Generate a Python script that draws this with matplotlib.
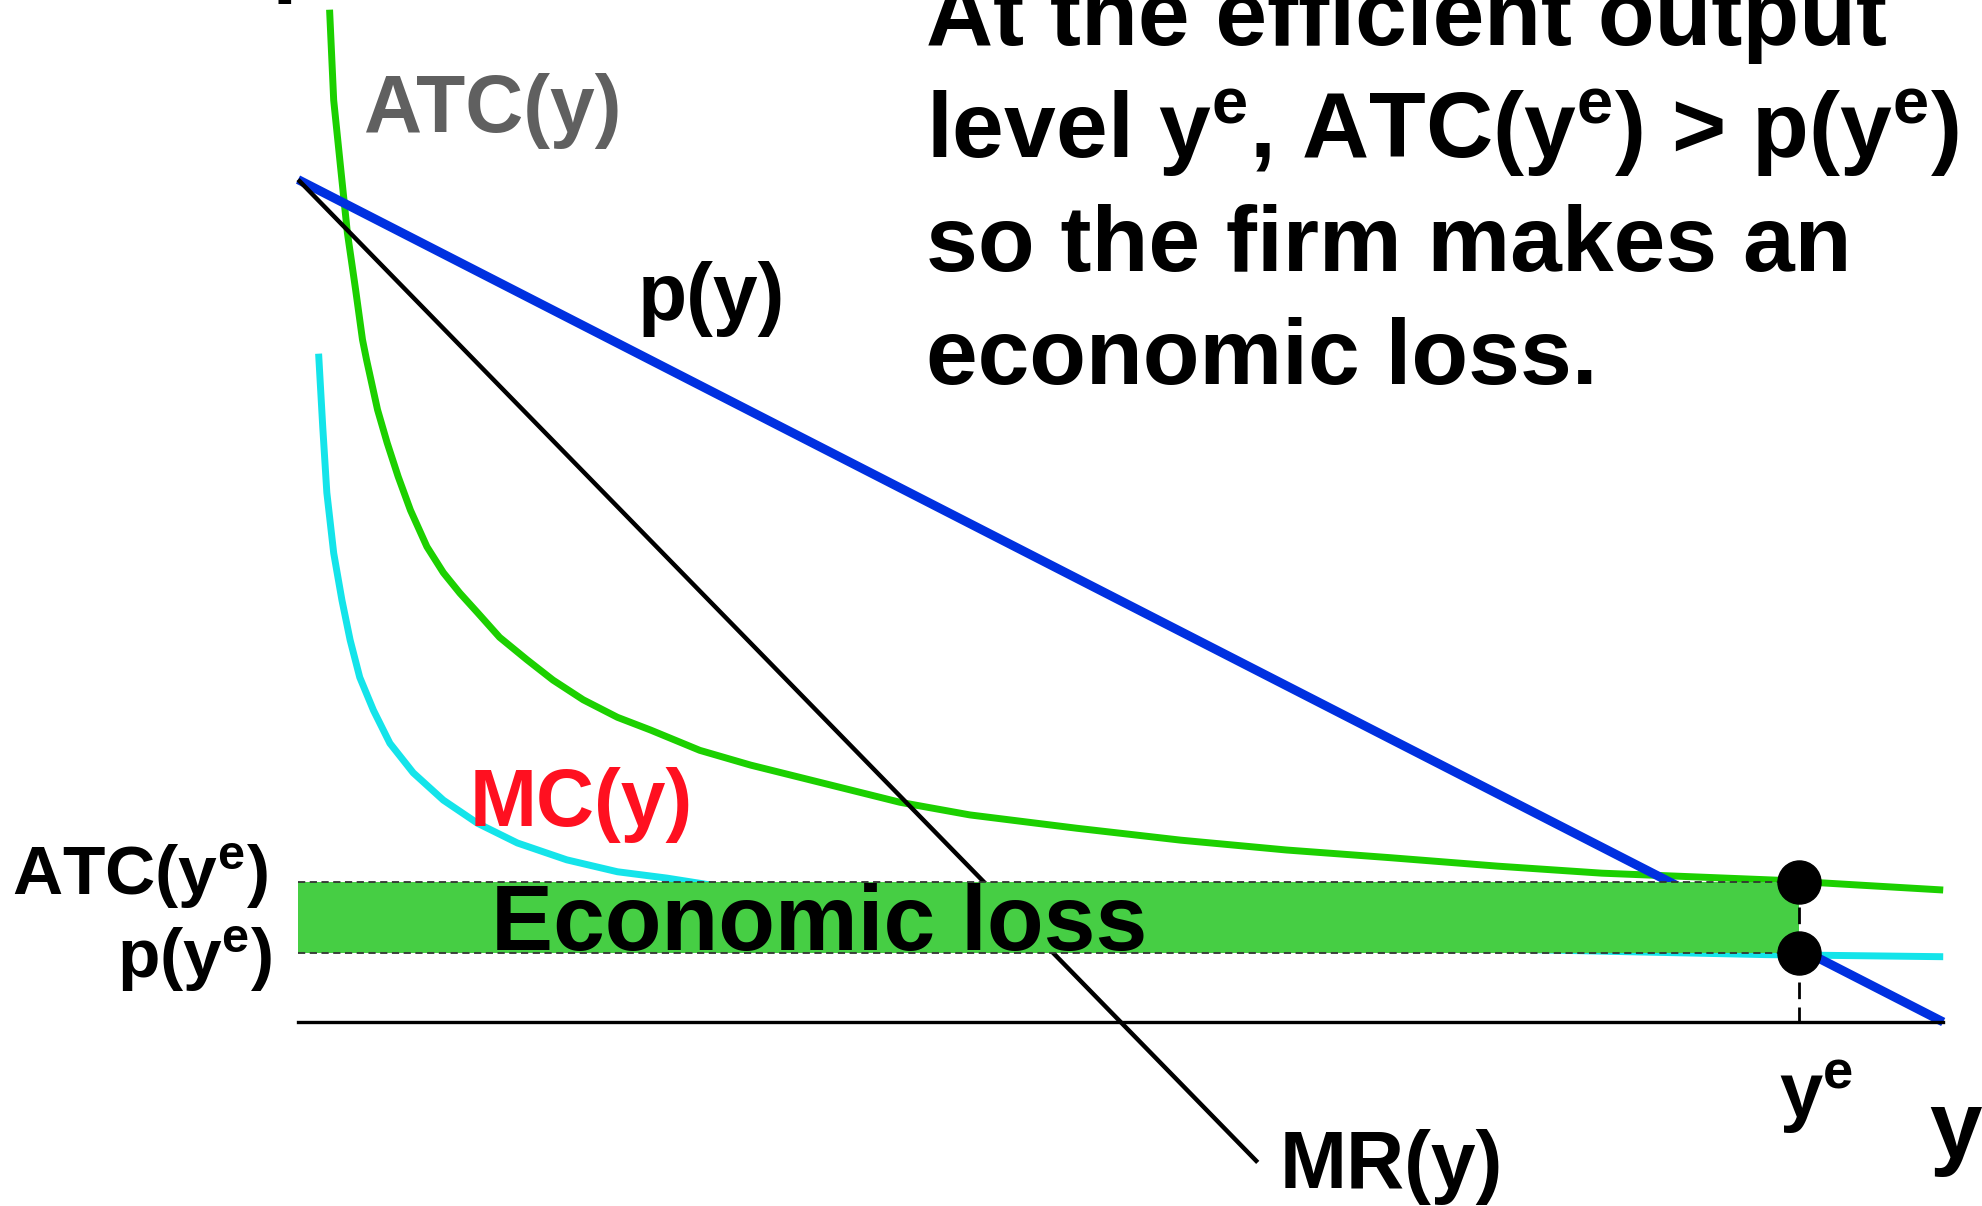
import matplotlib.pyplot as plt

plt.rcParams['font.family'] = ['Liberation Sans', 'DejaVu Sans']
plt.rcParams['font.weight'] = 'bold'
plt.rcParams['mathtext.fontset'] = 'custom'
plt.rcParams['mathtext.rm'] = 'Liberation Sans:bold'
plt.rcParams['mathtext.it'] = 'Liberation Sans:bold'
plt.rcParams['mathtext.bf'] = 'Liberation Sans:bold'
plt.rcParams['mathtext.default'] = 'bf'

# Inverse demand p(y) and marginal revenue MR(y)
demand_q = [0, 12]
demand_p = [12, 0]
mr_q = [0, 7]
mr_p = [12, -2]

# Average total cost ATC(y)
atc_q = [0.23, 0.26, 0.31, 0.36, 0.42, 0.47, 0.50, 0.58, 0.65, 0.73, 0.82,
         0.94, 1.06, 1.18, 1.31, 1.47, 1.67, 1.86, 2.08, 2.33, 2.57, 2.93,
         3.30, 4.39, 4.90, 5.68, 6.44, 7.21, 7.97, 8.75, 9.51,
         10.28, 10.79, 11.39, 12.0]
atc_p = [14.42, 13.13, 12.18, 11.24, 10.43, 9.72, 9.43, 8.72, 8.25, 7.77, 7.29,
         6.77, 6.40, 6.11, 5.83, 5.48, 5.16, 4.87, 4.59, 4.34, 4.16, 3.87,
         3.66, 3.13, 2.95, 2.76, 2.59, 2.45, 2.34, 2.22, 2.12,
         2.06, 2.02, 1.95, 1.88]

# Marginal cost MC(y)
mc_q = [0.15, 0.18, 0.21, 0.26, 0.32, 0.38, 0.45, 0.55, 0.67, 0.84, 1.06,
        1.31, 1.60, 1.96, 2.33, 2.69, 3.5, 5.0, 7.0, 9.0, 10.7, 12.0]
mc_p = [9.52, 8.48, 7.54, 6.68, 6.01, 5.44, 4.91, 4.44, 3.97, 3.55, 3.16,
        2.83, 2.55, 2.31, 2.14, 2.05, 1.80, 1.45, 1.18, 1.03, 0.96, 0.93]

# Efficient output and the two levels at that output
y_e = 10.95
atc_e = 2.0
p_e = 0.98

headline = [
    'At the efficient output',
    'level y$^e$, ATC(y$^e$) > p(y$^e$)',
    'so the firm makes an',
    'economic loss.',
]

fig = plt.figure(figsize=(19.82, 12.06), dpi=100)
ax = fig.add_axes([0, 0, 1, 1])
ax.set_xlim(-2.174, 12.283)
ax.set_ylim(-2.621, 14.558)
ax.axis('off')

# curves
ax.plot(mc_q, mc_p, color='#14E4EA', lw=5, solid_capstyle='butt',
        solid_joinstyle='round', zorder=2)
ax.plot(atc_q, atc_p, color='#1CD000', lw=5, solid_capstyle='butt',
        solid_joinstyle='round', zorder=3)
ax.plot(demand_q, demand_p, color='#0030E0', lw=6.5, solid_capstyle='butt', zorder=3)
ax.plot(mr_q, mr_p, color='black', lw=3.2, solid_capstyle='butt', zorder=3)

# quantity axis
ax.plot([0, 12], [0, 0], color='black', lw=2.4, zorder=4)

# loss area between ATC(ye) and p(ye)
ax.fill_between([0, y_e], p_e, atc_e, color='#46CE44', lw=0, zorder=5)
for level in (atc_e, p_e):
    ax.plot([0, y_e], [level, level], color='#333333', lw=1.3,
            ls=(0, (4, 2.5)), zorder=6)
ax.plot([y_e, y_e], [atc_e, 0], color='black', lw=2, ls=(0, (6, 3)), zorder=7)
ax.plot([y_e, y_e], [atc_e, p_e], 'o', ms=31, color='black', zorder=8)

# labels
ax.text(0.48, 12.68, 'ATC(y)', fontsize=58, color='#606060')
ax.text(2.48, 10.0, 'p(y)', fontsize=58, color='black')
ax.text(1.25, 2.79, 'MC(y)', fontsize=58, color='#FF1020', zorder=9)
ax.text(7.16, -2.36, 'MR(y)', fontsize=58, color='black')
ax.text(1.41, 1.03, 'Economic loss', fontsize=67, color='black', zorder=9)
ax.text(-0.22, 1.81, 'ATC(y$^e$)', fontsize=50, ha='right')
ax.text(-0.19, 0.63, 'p(y$^e$)', fontsize=50, ha='right')
ax.text(10.80, -1.37, 'y$^e$', fontsize=56)
ax.text(11.90, -1.92, 'y', fontsize=68)
ax.text(-0.19, 14.77, 'p', fontsize=67)

for i, line in enumerate(headline):
    ax.text(4.58, 13.92 - 1.61 * i, line, fontsize=67, color='black')

fig.savefig('out.png', dpi=100)
